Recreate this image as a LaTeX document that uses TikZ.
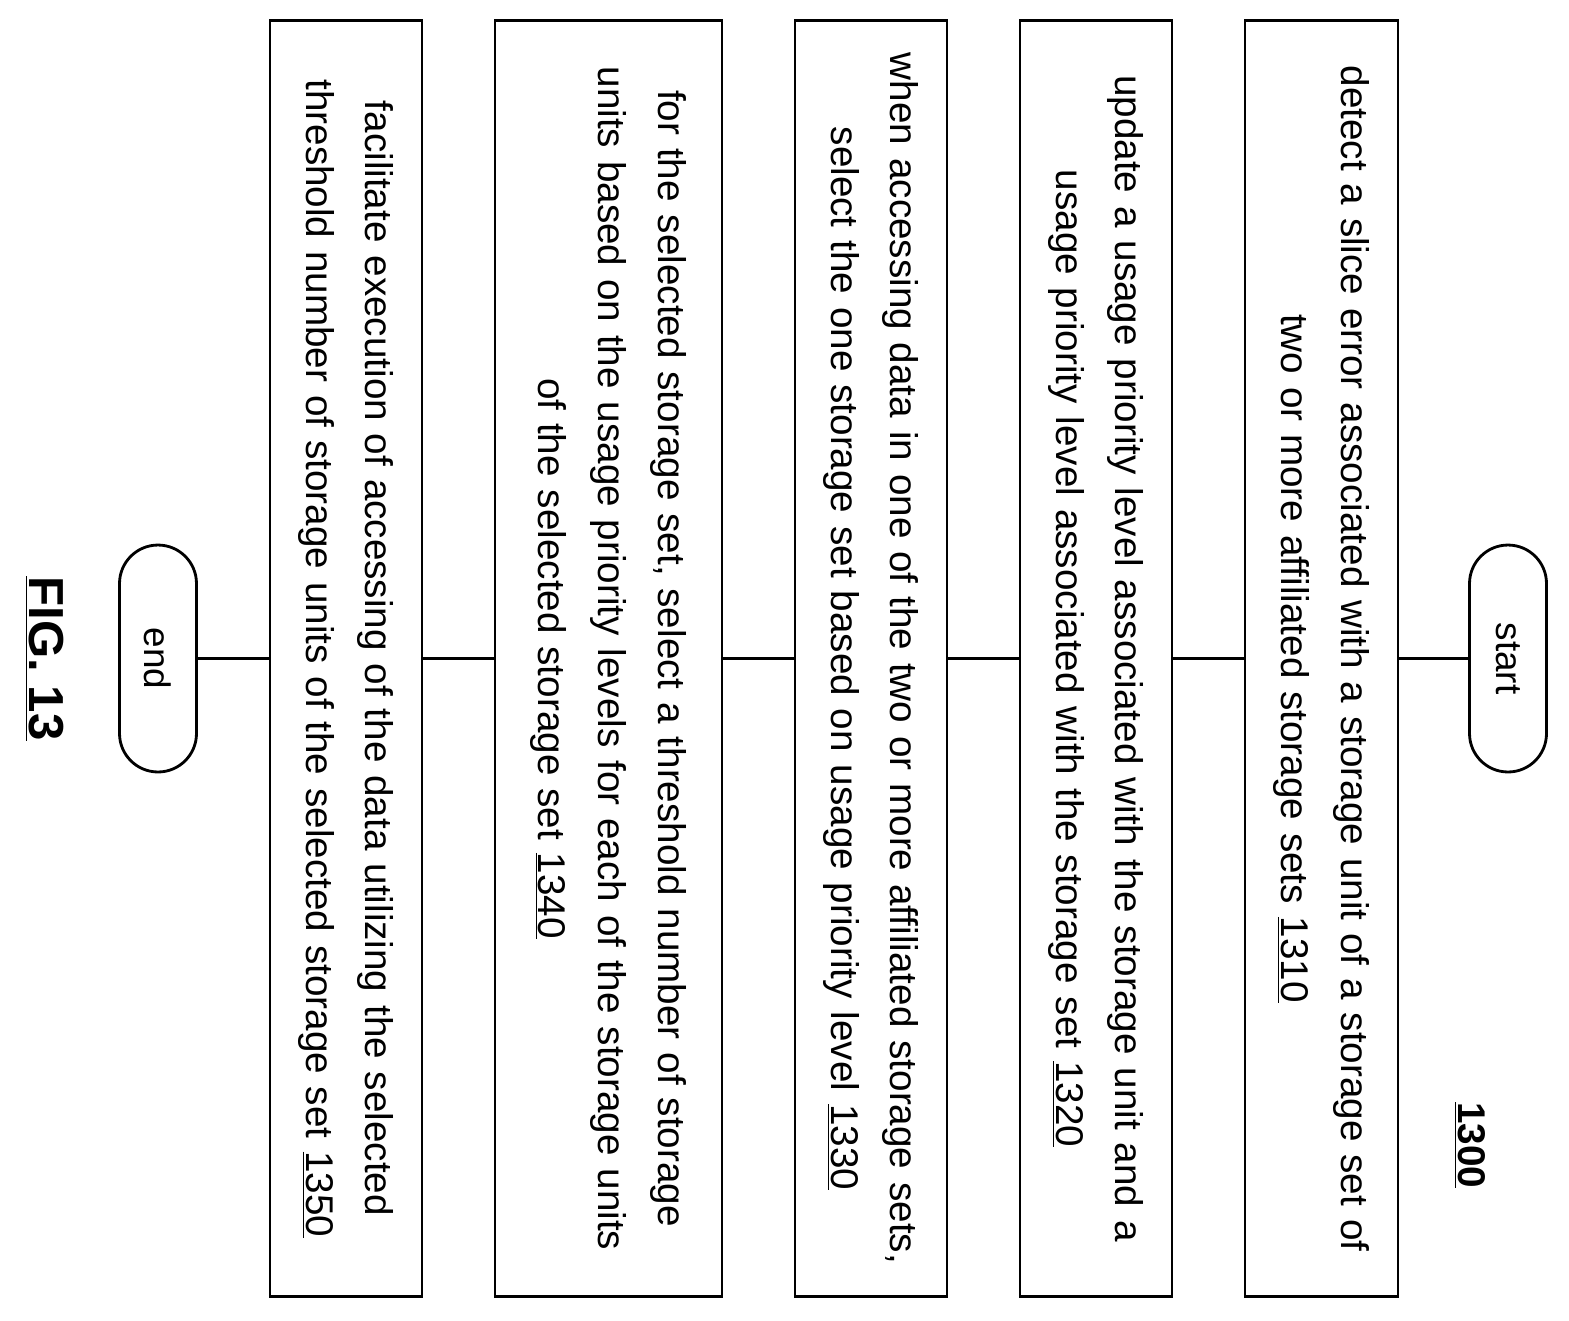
\documentclass[tikz,border=0pt]{standalone}
\usepackage{fontspec}
\setmainfont{Liberation Sans}
\usetikzlibrary{positioning}
\tikzset{
  stepbox/.style={draw,line width=1.6pt,rotate=-90,minimum width=25.54cm,
    align=center,text width=25.2cm,inner sep=0pt,
    font=\fontsize{22pt}{34pt}\selectfont},
  termbox/.style={draw,line width=1.6pt,rotate=-90,rounded corners=0.77cm,
    minimum width=4.54cm,minimum height=1.54cm,
    font=\fontsize{21pt}{24pt}\selectfont},
  link/.style={line width=1.6pt}
}
\newcommand{\refnum}[1]{\underline{#1}}
\begin{document}
\begin{tikzpicture}[x=0.02cm,y=-0.02cm]
\useasboundingbox (0,0) rectangle (1569,1320);
% terminals
\node[termbox] (start) at (1508,658.5) {start};
\node[termbox] (end) at (158,658.5) {end};
% steps
\node[stepbox,minimum height=3.06cm] (s1310) at (1321.5,658.5)
  {detect a slice error associated with a storage unit of a storage set of\\
   two or more affiliated storage sets \refnum{1310}};
\node[stepbox,minimum height=3.04cm] (s1320) at (1096,658.5)
  {update a usage priority level associated with the storage unit and a\\
   usage priority level associated with the storage set \refnum{1320}};
\node[stepbox,minimum height=3.04cm] (s1330) at (871,658.5)
  {when accessing data in one of the two or more affiliated storage sets,\\
   select the one storage set based on usage priority level \refnum{1330}};
\node[stepbox,minimum height=4.54cm] (s1340) at (608.5,658.5)
  {for the selected storage set, select a threshold number of storage\\
   units based on the usage priority levels for each of the storage units\\
   of the selected storage set \refnum{1340}};
\node[stepbox,minimum height=3.04cm] (s1350) at (346,658.5)
  {facilitate execution of accessing of the data utilizing the selected\\
   threshold number of storage units of the selected storage set \refnum{1350}};
% connectors
\draw[link] (start) -- (s1310);
\draw[link] (s1310) -- (s1320);
\draw[link] (s1320) -- (s1330);
\draw[link] (s1330) -- (s1340);
\draw[link] (s1340) -- (s1350);
\draw[link] (s1350) -- (end);
% labels
\node[rotate=-90,font=\bfseries\fontsize{22pt}{24pt}\selectfont] (fignum) at (1470,1145) {\refnum{1300}};
\node[rotate=-90,font=\bfseries\fontsize{28pt}{30pt}\selectfont] (figlabel) at (45,658.5) {\refnum{FIG. 13}};
\end{tikzpicture}
\end{document}
